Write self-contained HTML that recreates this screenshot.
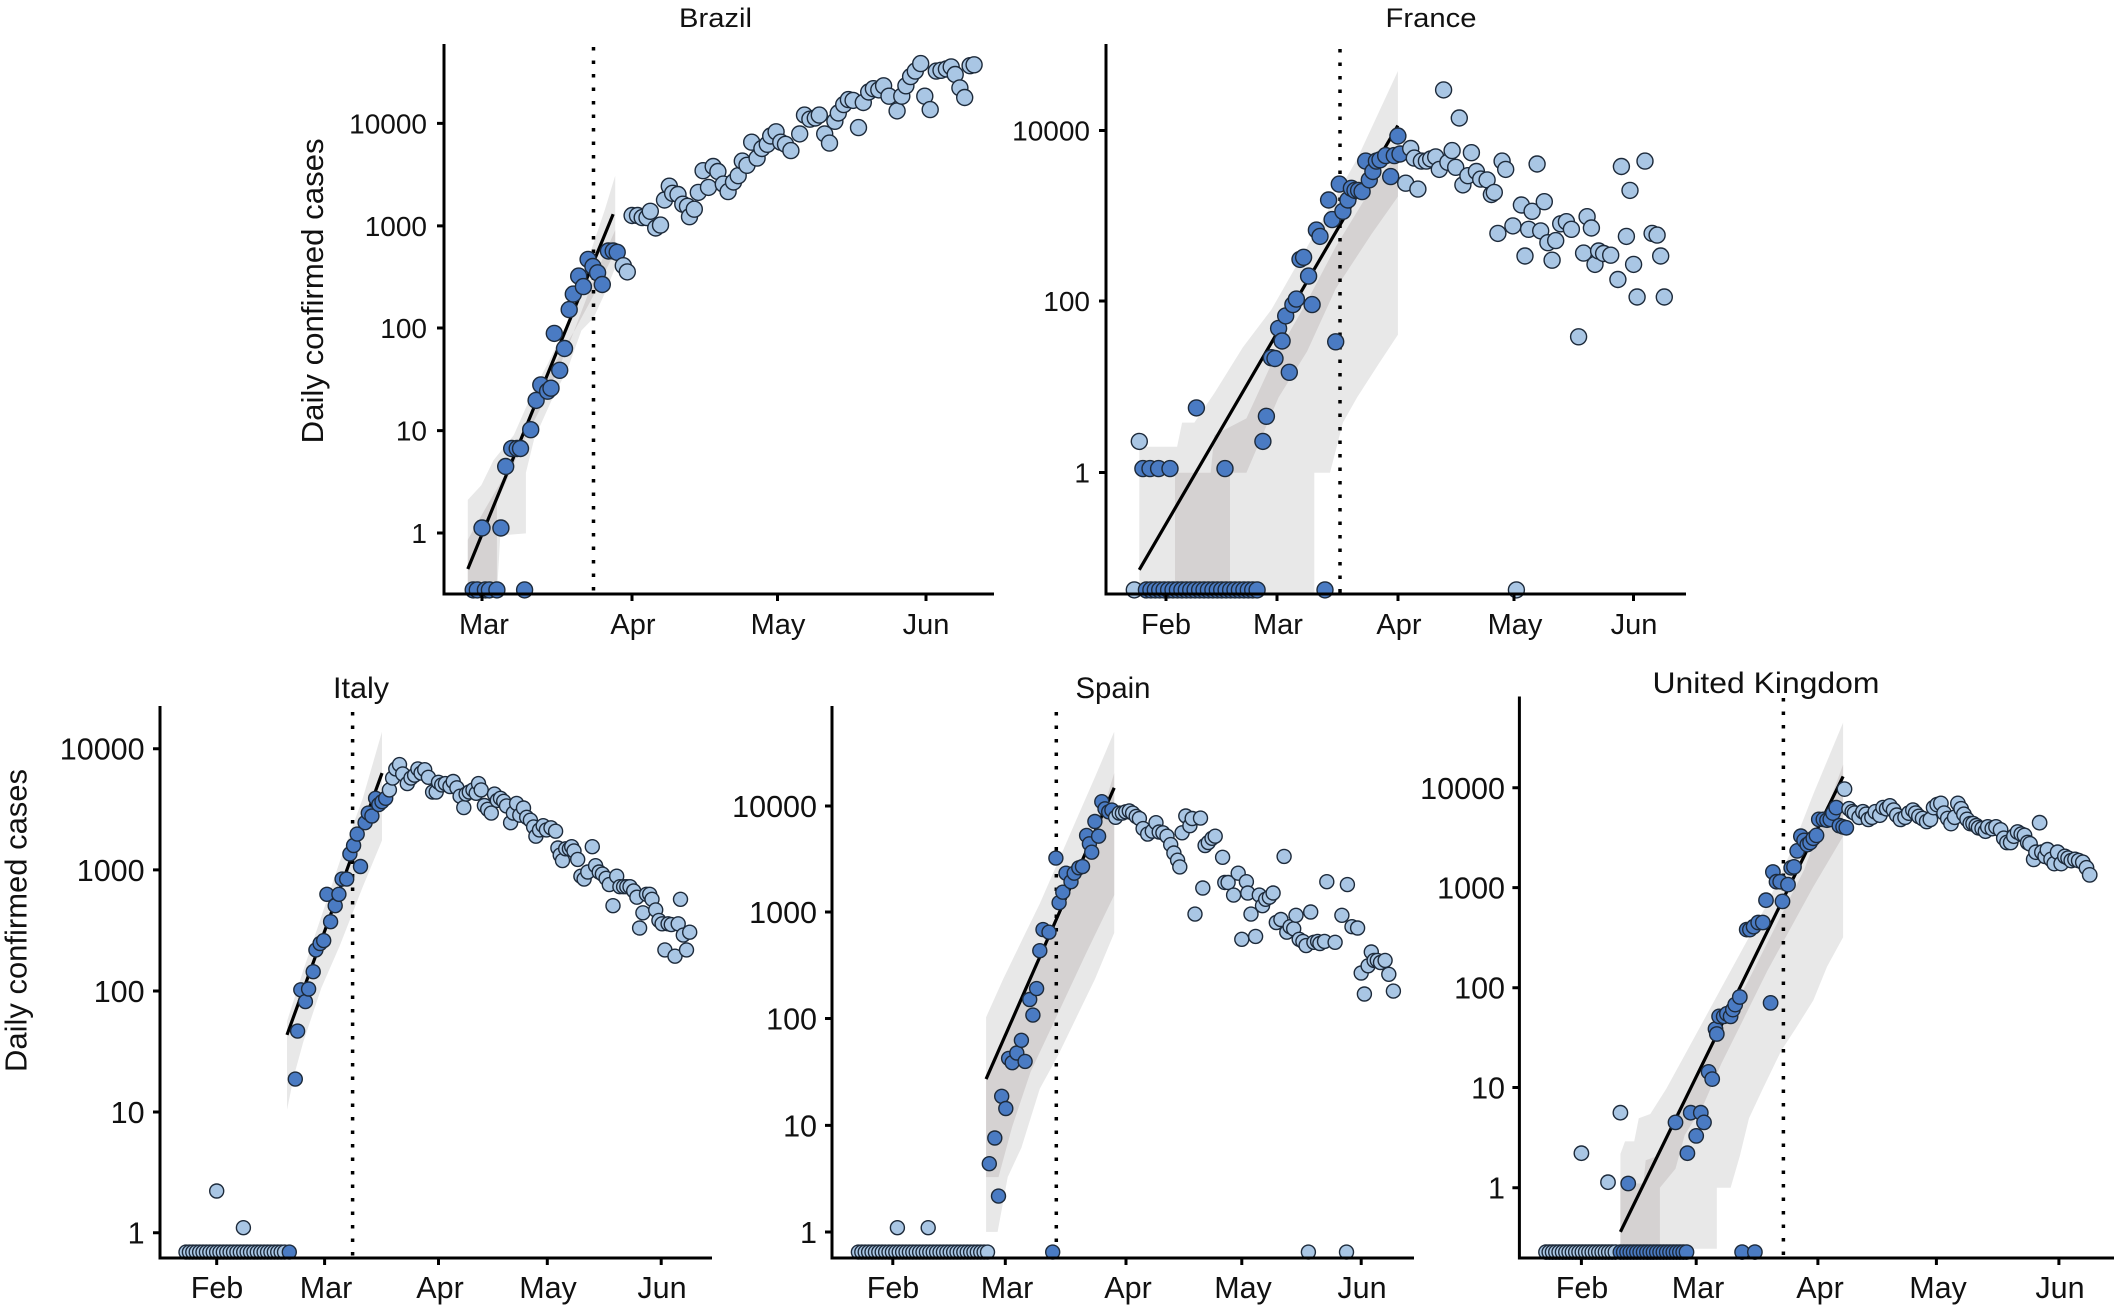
<!DOCTYPE html>
<html><head><meta charset="utf-8">
<style>
html,body{margin:0;padding:0;background:#fff;}
svg{display:block;}
text{font-family:"Liberation Sans",sans-serif;fill:#111;}
.t28{font-size:28px;}
.t29{font-size:29px;}
.t30{font-size:30.5px;}
</style></head>
<body>
<svg id="s" width="2120" height="1311" viewBox="0 0 2120 1311" xmlns="http://www.w3.org/2000/svg">
<rect width="2120" height="1311" fill="#fff"/>
<g id="bands"></g>
<g id="dots" stroke="#000" stroke-width="3.5" stroke-dasharray="3.5 10">
  <line x1="593.5" y1="47" x2="593.5" y2="594"/>
  <line x1="1340" y1="49" x2="1340" y2="594"/>
  <line x1="352.6" y1="712" x2="352.6" y2="1258"/>
  <line x1="1056.3" y1="712" x2="1056.3" y2="1258"/>
  <line x1="1783.4" y1="698" x2="1783.4" y2="1258"/>
</g>
<g id="lines"></g>
<g id="pts"></g>

<!-- axes -->
<g stroke="#000" stroke-width="3" fill="none">
  <!-- Brazil -->
  <path d="M444,44 V594 H994"/>
  <path d="M437,123.4 H444 M437,225.9 H444 M437,328 H444 M437,430.6 H444 M437,533 H444"/>
  <path d="M482,594 V601 M632,594 V601 M777.5,594 V601 M926,594 V601"/>
  <!-- France -->
  <path d="M1106,44 V594 H1686"/>
  <path d="M1099,130.5 H1106 M1099,301 H1106 M1099,472.5 H1106"/>
  <path d="M1166,594 V601 M1277,594 V601 M1398,594 V601 M1514,594 V601 M1633.5,594 V601"/>
  <!-- Italy -->
  <path d="M160,706 V1258 H712"/>
  <path d="M153,748.7 H160 M153,869.9 H160 M153,991 H160 M153,1112 H160 M153,1232.7 H160"/>
  <path d="M216.7,1258 V1265 M324.6,1258 V1265 M438.5,1258 V1265 M547.3,1258 V1265 M661.2,1258 V1265"/>
  <!-- Spain -->
  <path d="M832,706 V1258 H1414"/>
  <path d="M825,806 H832 M825,912 H832 M825,1018.5 H832 M825,1125.4 H832 M825,1232 H832"/>
  <path d="M892.8,1258 V1265 M1005.3,1258 V1265 M1126,1258 V1265 M1241.8,1258 V1265 M1361.2,1258 V1265"/>
  <!-- UK -->
  <path d="M1519.4,696.5 V1258 H2114"/>
  <path d="M1512.4,787.8 H1519.4 M1512.4,887.6 H1519.4 M1512.4,987.7 H1519.4 M1512.4,1087.5 H1519.4 M1512.4,1187.7 H1519.4"/>
  <path d="M1581.4,1258 V1265 M1696.2,1258 V1265 M1817.9,1258 V1265 M1936.4,1258 V1265 M2058.9,1258 V1265"/>
</g>

<!-- titles -->
<text x="715.5" y="27" font-size="27" text-anchor="middle" textLength="73" lengthAdjust="spacingAndGlyphs">Brazil</text>
<text x="1431" y="27" font-size="27" text-anchor="middle" textLength="91" lengthAdjust="spacingAndGlyphs">France</text>
<text x="361" y="698" font-size="30" text-anchor="middle" textLength="56" lengthAdjust="spacingAndGlyphs">Italy</text>
<text x="1113" y="698" font-size="30" text-anchor="middle" textLength="75" lengthAdjust="spacingAndGlyphs">Spain</text>
<text x="1766" y="693" font-size="30" text-anchor="middle" textLength="227" lengthAdjust="spacingAndGlyphs">United Kingdom</text>

<!-- y labels -->
<text transform="translate(323,290.9) rotate(-90)" font-size="31" text-anchor="middle" textLength="305" lengthAdjust="spacingAndGlyphs">Daily confirmed cases</text>
<text transform="translate(26.5,920.5) rotate(-90)" font-size="31" text-anchor="middle" textLength="303" lengthAdjust="spacingAndGlyphs">Daily confirmed cases</text>

<!-- Brazil ticks -->
<g class="t28" text-anchor="end">
  <text x="427" y="133.4">10000</text>
  <text x="427" y="236">1000</text>
  <text x="427" y="338">100</text>
  <text x="427" y="440.6">10</text>
  <text x="427" y="543">1</text>
</g>
<g class="t29" text-anchor="middle">
  <text x="484" y="634">Mar</text>
  <text x="633" y="634">Apr</text>
  <text x="778" y="634">May</text>
  <text x="926" y="634">Jun</text>
</g>
<!-- France ticks -->
<g class="t28" text-anchor="end">
  <text x="1090" y="140.5">10000</text>
  <text x="1090" y="311">100</text>
  <text x="1090" y="482.5">1</text>
</g>
<g class="t29" text-anchor="middle">
  <text x="1166" y="634">Feb</text>
  <text x="1278" y="634">Mar</text>
  <text x="1399" y="634">Apr</text>
  <text x="1515" y="634">May</text>
  <text x="1634" y="634">Jun</text>
</g>
<!-- Italy ticks -->
<g class="t30" text-anchor="end">
  <text x="144.6" y="759.7">10000</text>
  <text x="144.6" y="881">1000</text>
  <text x="144.6" y="1002">100</text>
  <text x="144.6" y="1123">10</text>
  <text x="144.6" y="1243.7">1</text>
</g>
<g class="t30" text-anchor="middle">
  <text x="217" y="1298">Feb</text>
  <text x="326" y="1298">Mar</text>
  <text x="440" y="1298">Apr</text>
  <text x="548" y="1298">May</text>
  <text x="662" y="1298">Jun</text>
</g>
<!-- Spain ticks -->
<g class="t30" text-anchor="end">
  <text x="817" y="817">10000</text>
  <text x="817" y="923">1000</text>
  <text x="817" y="1029.5">100</text>
  <text x="817" y="1136.4">10</text>
  <text x="817" y="1243">1</text>
</g>
<g class="t30" text-anchor="middle">
  <text x="893" y="1298">Feb</text>
  <text x="1007" y="1298">Mar</text>
  <text x="1128" y="1298">Apr</text>
  <text x="1243" y="1298">May</text>
  <text x="1362" y="1298">Jun</text>
</g>
<!-- UK ticks -->
<g class="t30" text-anchor="end">
  <text x="1505" y="798.8">10000</text>
  <text x="1505" y="898.6">1000</text>
  <text x="1505" y="998.7">100</text>
  <text x="1505" y="1098.5">10</text>
  <text x="1505" y="1198.7">1</text>
</g>
<g class="t30" text-anchor="middle">
  <text x="1582" y="1298">Feb</text>
  <text x="1698" y="1298">Mar</text>
  <text x="1820" y="1298">Apr</text>
  <text x="1938" y="1298">May</text>
  <text x="2060" y="1298">Jun</text>
</g>
</svg>

<script>
(function(){
const NS='http://www.w3.org/2000/svg';
function mk(tag,a,p){const e=document.createElementNS(NS,tag);for(const k in a)e.setAttribute(k,a[k]);p.appendChild(e);return e;}
function range(a,b,s,y){const r=[];for(let x=a;x<=b+0.01;x+=s){r.push(x,y);}return r;}
const S3=720/1568, S3y=660/1568;
const panels=[
{ // Brazil
 t:[0,0,1060/1568,656/1568], r:8,
 line:[692,1360,907,512],
 outer:[692,1195,712,1160,730,1100,760,1040,790,930,810,870,840,770,870,620,895,500,910,420,910,640,895,700,878,760,860,790,840,880,815,960,790,1050,778,1130,778,1275,740,1280,735,1420,692,1420],
 inner:[692,1290,720,1210,760,1100,800,975,840,830,880,660,910,550,910,600,880,700,850,790,820,870,790,980,760,1110,735,1200,735,1420,692,1420],
 dark:[700,1410,706,1410,718,1410,724,1410,735,1410,776,1410,
  713,1262,741,1262,748,1115,757,1072,765,1072,770,1072,785,1027,793,957,800,920,810,935,815,928,820,797,835,833,828,885,842,740,848,703,856,660,863,685,870,620,877,637,884,652,891,680,900,600,907,600,913,603],
 light:[922,635,928,650,935,515,943,515,950,520,957,520,962,505,970,545,977,538,983,478,990,445,995,462,1003,465,1010,488,1017,493,1020,518,1027,500,1033,460,1040,408,1048,448,1055,398,1062,410,1070,440,1077,458,1085,435,1092,420,1098,385,1105,395,1112,340,1120,378,1127,355,1135,345,1140,325,1148,315,1155,340,1162,345,1170,360,1183,320,1190,275,1198,285,1206,282,1212,275,1220,320,1227,342,1235,290,1240,270,1248,250,1255,238,1262,240,1270,305,1277,245,1285,220,1292,212,1300,215,1307,205,1315,230,1327,265,1334,230,1340,205,1347,183,1354,170,1362,152,1368,230,1376,262,1385,170,1392,168,1400,165,1407,160,1413,178,1420,210,1427,233,1435,157,1441,155]
},
{ // France
 t:[1000,0,1120/1568,656/1568], r:8,
 line:[195,1362,557,300],
 outer:[195,1068,248,1068,255,1010,272,1010,300,940,340,830,380,740,420,620,460,500,500,380,557,170,557,800,530,870,500,950,480,1010,462,1130,440,1130,440,1420,195,1420],
 inner:[245,1420,245,1130,295,1130,300,1040,345,1000,380,870,430,720,470,590,520,450,557,370,557,470,520,560,470,690,430,840,390,950,345,1130,322,1130,322,1420],
 dark:range(205,364,6.2,1410).concat([455,1410,
  200,1120,210,1120,222,1120,238,1120,275,975,315,1120,368,1055,373,995,380,855,385,857,390,785,395,815,400,755,405,890,410,728,415,715,420,620,425,615,432,660,437,728,443,550,448,565,460,478,465,525,470,817,475,440,480,505,487,478,492,450,497,455,502,455,507,458,512,385,517,430,522,410,527,385,532,382,540,372,547,422,552,372,557,325,560,368]),
 light:[188,1410,723,1410,195,1055,
  568,438,575,355,580,378,585,452,590,385,597,385,603,380,610,375,615,405,621,215,627,388,633,360,638,400,643,282,648,442,655,420,660,365,667,410,673,428,682,430,688,465,692,460,697,558,703,385,708,405,718,540,730,490,735,612,740,548,745,505,752,392,757,552,762,482,767,580,773,622,778,575,785,535,793,530,800,548,810,805,817,605,822,518,828,545,833,632,838,600,845,606,855,610,865,668,870,398,877,565,882,455,887,632,892,710,903,385,913,558,920,562,925,612,930,710]
},
{ // Italy
 t:[0,651,S3,S3y], r:7,
 line:[625,912,832,290],
 outer:[625,880,660,760,700,630,740,500,790,350,832,192,832,450,790,560,740,700,700,800,660,930,640,1010,625,1090],
 inner:null,
 dark:[630,1428,
  643,1017,648,903,655,805,665,833,672,803,682,762,688,710,697,695,705,688,712,578,720,643,730,605,738,578,745,542,755,542,762,482,770,462,778,435,785,512,795,408,802,385,810,392,818,350,825,365,832,358,840,350],
 light:range(405,620,7.4,1428).concat([472,1283,530,1370,
  848,330,855,302,862,280,870,270,877,292,887,315,895,302,903,295,910,280,917,290,925,282,933,300,942,335,950,335,955,312,962,318,970,315,980,322,987,310,995,325,1002,345,1010,372,1015,340,1022,335,1030,330,1037,338,1042,315,1048,330,1055,367,1062,376,1070,385,1077,340,1083,355,1090,350,1097,357,1103,368,1112,408,1118,385,1125,362,1132,390,1140,373,1147,395,1155,402,1162,418,1167,440,1175,425,1183,415,1190,425,1200,420,1210,428,1215,468,1220,485,1225,498,1232,470,1240,470,1245,465,1250,475,1258,495,1265,535,1272,542,1280,525,1290,465,1297,510,1305,525,1312,530,1320,540,1327,555,1335,605,1343,535,1350,560,1358,560,1365,560,1372,560,1380,570,1387,585,1393,658,1400,622,1408,578,1415,578,1420,590,1428,615,1435,640,1442,648,1448,710,1455,648,1462,650,1470,725,1477,648,1482,590,1488,675,1495,710,1502,668])
},
{ // Spain
 t:[700,651,S3,S3y], r:7,
 line:[623,1017,902,325],
 outer:[623,870,660,780,700,690,740,600,780,500,820,400,860,300,902,192,902,670,860,780,820,870,780,960,740,1040,700,1180,670,1250,648,1380,623,1380],
 inner:[623,1015,700,830,780,640,860,440,902,290,902,580,840,720,780,860,720,1000,680,1130,650,1250,623,1250],
 dark:[768,1428,
  630,1218,642,1157,650,1295,657,1058,666,1087,672,968,680,978,690,955,700,925,708,975,718,828,725,865,733,802,740,712,747,662,760,668,775,492,782,598,790,573,797,528,808,548,815,528,825,515,833,512,842,438,848,458,853,478,860,405,868,440,875,358,882,375,890,382,897,378],
 light:range(345,630,7.4,1428).concat([1325,1428,1408,1428,430,1370,497,1370,
  905,395,913,385,920,385,927,382,935,380,942,385,950,393,957,398,965,422,975,435,985,428,993,408,1000,430,1008,432,1017,440,1025,460,1032,480,1040,497,1045,513,1050,432,1058,392,1067,415,1072,398,1078,625,1090,397,1095,563,1100,462,1107,455,1115,445,1122,440,1138,490,1143,550,1150,550,1162,580,1172,528,1180,685,1190,548,1193,575,1200,625,1210,678,1218,580,1225,605,1232,590,1240,585,1248,575,1255,645,1265,638,1272,488,1278,668,1285,655,1293,660,1298,628,1305,685,1313,690,1320,700,1330,620,1337,692,1345,690,1350,695,1360,690,1365,548,1383,692,1398,628,1410,555,1420,655,1432,658,1440,765,1447,815,1455,748,1462,715,1468,735,1475,735,1482,740,1492,735,1500,768,1510,808])
},
{ // UK
 t:[1400,651,S3,S3y], r:7.2,
 line:[480,1380,965,298],
 outer:[480,1195,490,1165,510,1165,520,1110,545,1100,580,1040,620,960,660,880,700,800,750,700,800,600,850,480,900,340,965,170,965,680,930,750,900,830,860,900,830,950,790,1040,760,1110,740,1200,720,1275,690,1275,690,1420,480,1420],
 inner:[480,1420,480,1265,530,1265,535,1210,560,1200,600,1100,650,1000,700,900,760,780,820,650,880,520,965,270,965,440,900,560,850,660,800,760,750,870,700,980,660,1080,620,1150,600,1230,566,1275,566,1420],
 dark:range(480,625,7.2,1428).concat([745,1428,773,1428,
  497,1265,600,1120,626,1193,633,1097,645,1152,655,1097,662,1120,672,1000,680,1017,687,898,690,910,695,868,705,868,712,862,720,868,725,852,730,840,740,822,755,662,762,662,770,655,780,645,790,645,797,592,807,836,812,525,820,548,828,548,833,595,845,555,852,515,858,513,865,475,873,440,880,450,887,460,893,455,900,445,907,438,912,400,922,400,930,402,937,400,943,385,950,372,957,415,965,418,972,420]),
 light:range(318,470,7.2,1428).concat([395,1193,453,1262,480,1097,
  968,328,978,375,985,382,990,385,1000,395,1008,382,1015,388,1020,400,1028,395,1035,382,1045,390,1052,372,1060,375,1067,368,1075,378,1082,390,1090,400,1100,395,1108,385,1117,378,1123,385,1130,393,1138,398,1147,405,1155,400,1162,372,1170,365,1178,362,1185,385,1193,398,1200,410,1208,395,1215,362,1222,375,1228,388,1235,400,1242,410,1248,410,1255,415,1260,420,1268,422,1275,428,1280,418,1290,422,1298,418,1308,425,1315,445,1322,455,1330,455,1337,440,1345,430,1353,435,1360,438,1367,455,1372,458,1380,495,1385,478,1393,408,1398,478,1405,488,1410,472,1418,495,1425,505,1432,478,1440,505,1448,488,1455,492,1462,498,1470,495,1478,498,1487,502,1495,515,1502,532])
}
];
const gB=document.getElementById('bands'),gL=document.getElementById('lines'),gP=document.getElementById('pts');
panels.forEach(p=>{
  const [ox,oy,sx,sy]=p.t;
  const X=x=>ox+x*sx, Y=y=>oy+y*sy;
  const tr=a=>{const s=[];for(let i=0;i<a.length;i+=2)s.push(X(a[i]).toFixed(1)+','+Y(a[i+1]).toFixed(1));return s.join(' ');};
  mk('polygon',{points:tr(p.outer),fill:'#e8e8e8'},gB);
  if(p.inner) mk('polygon',{points:tr(p.inner),fill:'#d5d2d2'},gB);
  const l=p.line;
  mk('line',{x1:X(l[0]),y1:Y(l[1]),x2:X(l[2]),y2:Y(l[3]),stroke:'#000','stroke-width':3.2,'stroke-linecap':'butt'},gL);
  const pts=[];
  for(let i=0;i<p.dark.length;i+=2)pts.push([X(p.dark[i]),Y(p.dark[i+1]),'#4a7bc3']);
  for(let i=0;i<p.light.length;i+=2)pts.push([X(p.light[i]),Y(p.light[i+1]),'#a9c6e4']);
  pts.sort((a,b)=>a[0]-b[0]);
  pts.forEach(q=>mk('circle',{cx:q[0].toFixed(1),cy:q[1].toFixed(1),r:p.r,fill:q[2],stroke:'#1d2a3a','stroke-width':1.4},gP));
});
})();
</script>
</body></html>
